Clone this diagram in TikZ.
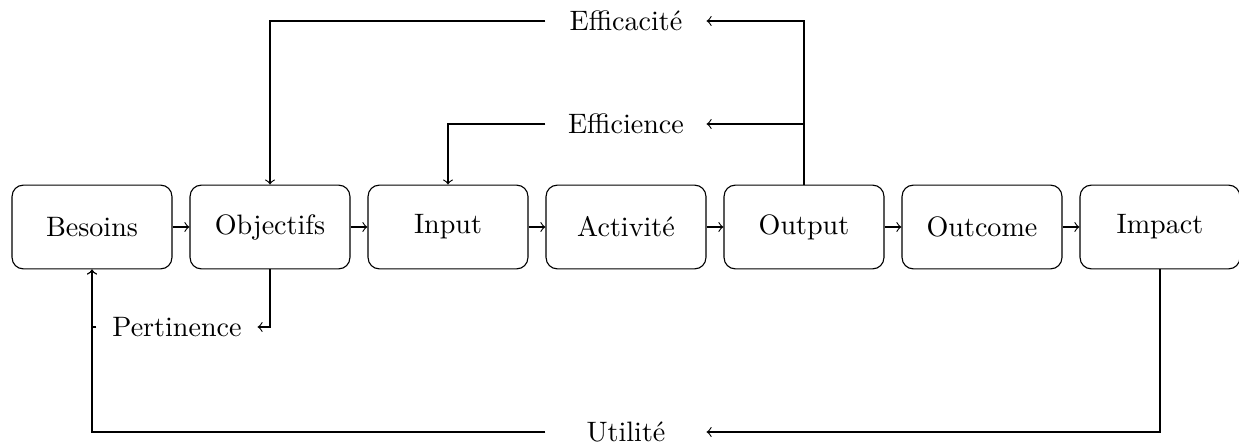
\documentclass[tikz,border=0pt]{standalone}
\begin{document}
\begin{tikzpicture}[x=0.3559pt,y=-0.3559pt,
  box/.style={draw, rounded corners, minimum width=2cm, minimum height=29.8pt, inner sep=0pt},
  lab/.style={minimum width=2cm, minimum height=12pt, inner sep=0pt},
  conn/.style={->}]
\useasboundingbox (0,0) rectangle (1239,445);
\node[box] (bes) at (92,227) {Besoins};
\node[box] (obj) at (270,227) {Objectifs};
\node[box] (inp) at (448,227) {Input};
\node[box] (act) at (626,227) {Activité};
\node[box] (out) at (804,227) {Output};
\node[box] (outc) at (982,227) {Outcome};
\node[box] (imp) at (1160,227) {Impact};
\node[lab] (effa) at (626,21) {Efficacité};
\node[lab] (effi) at (626,124) {Efficience};
\node[lab] (pert) at (177,327) {Pertinence};
\node[lab] (util) at (626,432) {Utilité};
\draw[conn] (bes) -- (obj);
\draw[conn] (obj) -- (inp);
\draw[conn] (inp) -- (act);
\draw[conn] (act) -- (out);
\draw[conn] (out) -- (outc);
\draw[conn] (outc) -- (imp);
\draw[conn] (out.north) |- (effa.east);
\draw[conn] (effa.west) -| (obj.north);
\draw[conn] (out.north) |- (effi.east);
\draw[conn] (effi.west) -| (inp.north);
\draw[conn] (obj.south) |- (pert.east);
\draw[conn] (pert.west) -| (bes.south);
\draw[conn] (imp.south) |- (util.east);
\draw[conn] (util.west) -| (bes.south);
\end{tikzpicture}
\end{document}
